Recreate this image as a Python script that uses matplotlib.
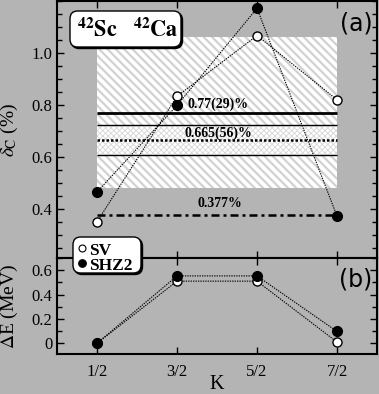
import numpy as np
import matplotlib
matplotlib.use("Agg")
import matplotlib.pyplot as plt
from matplotlib.patches import Rectangle, FancyBboxPatch
from matplotlib.ticker import FixedLocator, FixedFormatter, MultipleLocator

# ---------------- data ----------------
k_labels = ["1/2", "3/2", "5/2", "7/2"]
delta_sv = [0.35, 0.833, 1.067, 0.82]
delta_shz2 = [0.465, 0.798, 1.172, 0.372]
dE_sv = [0.0, 0.51, 0.51, 0.01]
dE_shz2 = [0.0, 0.553, 0.553, 0.097]
band_center, band_err = 0.77, 0.29
avg_center, avg_err = 0.665, 0.056
low_value = 0.377
band_texts = ["0.77(29)%", "0.665(56)%", "0.377%"]

BG = "#b4b4b4"
W, H = 379, 394
plt.rcParams["font.family"] = ["Liberation Serif", "DejaVu Serif"]
plt.rcParams["mathtext.fontset"] = "stix"
plt.rcParams["hatch.linewidth"] = 1.6

fig = plt.figure(figsize=(W / 100, H / 100), dpi=100, facecolor=BG)

def fx(x):
    return x / W

def fy(y):
    return 1 - y / H

ax1 = fig.add_axes([fx(57), fy(258), fx(377) - fx(57), fy(1) - fy(258)])
ax2 = fig.add_axes([fx(57), fy(354), fx(377) - fx(57), fy(258) - fy(354)])

x = np.arange(len(k_labels)) + 0.5
x0, x1 = x[0], x[-1]

for ax in (ax1, ax2):
    ax.set_facecolor(BG)
    ax.set_xlim(0, 4)
    for s in ax.spines.values():
        s.set_linewidth(1.5)
        s.set_color("black")
    ax.tick_params(which="both", direction="in", top=True, right=True,
                   color="black", width=1.0, labelsize=12)
    ax.tick_params(which="major", length=5)
    ax.tick_params(which="minor", length=3.5)
    ax.set_xticks(x)

# ---------------- top panel ----------------
ax1.set_ylim(0.211, 1.2)
ax1.yaxis.set_major_locator(FixedLocator([0.4, 0.6, 0.8, 1.0]))
ax1.yaxis.set_major_formatter(FixedFormatter(["0.4", "0.6", "0.8", "1.0"]))
ax1.yaxis.set_minor_locator(MultipleLocator(0.05))
ax1.set_xticklabels([])
ax1.tick_params(axis="y", pad=3.5)

big = Rectangle((x0, band_center - band_err), x1 - x0, 2 * band_err,
                facecolor="white", edgecolor="#d2d2d2", hatch="\\\\\\\\",
                linewidth=0, zorder=1)
ax1.add_patch(big)
with plt.rc_context({"hatch.linewidth": 0.6}):
    small = Rectangle((x0, avg_center - avg_err), x1 - x0, 2 * avg_err,
                      facecolor="white", edgecolor="#d6d6d6", hatch="xxxxxx",
                      linewidth=0, zorder=1.5)
    ax1.add_patch(small)

ax1.hlines(band_center, x0, x1, color="black", lw=2.0, zorder=2)
ax1.hlines([avg_center - avg_err, avg_center + avg_err], x0, x1,
           color="black", lw=1.0, zorder=2)
ax1.hlines(avg_center, x0, x1, color="black", lw=1.8,
           linestyles=[(0, (1.0, 0.8))], zorder=2)
ax1.hlines(low_value, x0, x1, color="black", lw=1.8,
           linestyles=[(0, (3.2, 1.6, 1.2, 1.6))], zorder=2)

tkw = dict(fontsize=10, fontweight="bold", va="baseline", ha="left", zorder=3)
ax1.text(1.625, 0.787, band_texts[0], **tkw)
ax1.text(1.59, 0.678, band_texts[1], **tkw)
ax1.text(1.75, 0.408, band_texts[2], **tkw)

lkw = dict(color="black", lw=0.8, linestyle=(0, (1.2, 1.0)), zorder=4)
ax1.plot(x, delta_sv, marker="o", ms=6.5, mfc="white", mec="black", mew=1.0, **lkw)
ax1.plot(x, delta_shz2, marker="o", ms=7, mfc="black", mec="black", mew=1.0, **lkw)

ax1.set_ylabel(r"$\delta_{\rm C}$ (%)", fontsize=14)
ax1.yaxis.set_label_coords(-0.115, 0.5)
ax1.text(0.985, 0.96, "(a)", transform=ax1.transAxes, ha="right", va="top",
         fontsize=17, family="DejaVu Sans", zorder=5)

# ---------------- bottom panel ----------------
ax2.set_ylim(-0.088, 0.7)
ax2.yaxis.set_major_locator(FixedLocator([0, 0.2, 0.4, 0.6]))
ax2.yaxis.set_major_formatter(FixedFormatter(["0", "0.2", "0.4", "0.6"]))
ax2.yaxis.set_minor_locator(MultipleLocator(0.1))
ax2.set_xticklabels(k_labels)
ax2.tick_params(axis="x", pad=7)
ax2.tick_params(axis="y", pad=3.5)

ax2.plot(x, dE_sv, marker="o", ms=6.5, mfc="white", mec="black", mew=1.0, **lkw)
ax2.plot(x, dE_shz2, marker="o", ms=7, mfc="black", mec="black", mew=1.0, **lkw)

ax2.set_ylabel(r"$\Delta$E (MeV)", fontsize=14)
ax2.yaxis.set_label_coords(-0.115, 0.5)
ax2.set_xlabel("K", fontsize=14.5, labelpad=-3.5)
ax2.text(0.985, 0.9, "(b)", transform=ax2.transAxes, ha="right", va="top",
         fontsize=17, family="DejaVu Sans", zorder=5)

# ---------------- legend boxes (figure coords) ----------------
def rbox(l, t, r, b):
    sh = FancyBboxPatch((fx(l) + 1.5 / W, fy(b) - 1.5 / H), fx(r) - fx(l), fy(t) - fy(b),
                        boxstyle="round,pad=0,rounding_size=0.02",
                        transform=fig.transFigure, facecolor="black",
                        edgecolor="black", lw=1.0, zorder=10)
    bx = FancyBboxPatch((fx(l), fy(b)), fx(r) - fx(l), fy(t) - fy(b),
                        boxstyle="round,pad=0,rounding_size=0.02",
                        transform=fig.transFigure, facecolor="white",
                        edgecolor="black", lw=1.0, zorder=11)
    fig.patches.extend([sh, bx])

rbox(70, 11, 181, 47)
fig.text(fx(77), fy(37), r"$^{\mathbf{42}}\mathbf{Sc}$", fontsize=16,
         va="baseline", ha="left", zorder=12)
fig.text(fx(133), fy(37), r"$^{\mathbf{42}}\mathbf{Ca}$", fontsize=16,
         va="baseline", ha="left", zorder=12)

rbox(73, 237, 141, 273)
fig.lines.append(plt.Line2D([fx(82)], [fy(248)], transform=fig.transFigure,
                            marker="o", ms=5, mfc="white", mec="black", mew=0.8,
                            ls="none", zorder=12))
fig.lines.append(plt.Line2D([fx(82)], [fy(263)], transform=fig.transFigure,
                            marker="o", ms=5.5, mfc="black", mec="black", mew=0.8,
                            ls="none", zorder=12))
fig.text(fx(89), fy(255), "SV", fontsize=12.5, fontweight="bold",
         va="baseline", ha="left", zorder=12)
fig.text(fx(89), fy(270), "SHZ2", fontsize=12.5, fontweight="bold",
         va="baseline", ha="left", zorder=12)

fig.savefig("out.png", dpi=100, facecolor=BG)
